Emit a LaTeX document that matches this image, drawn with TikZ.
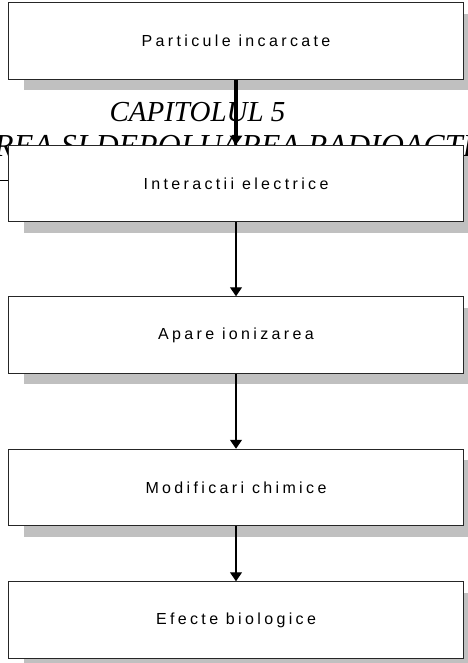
\documentclass[tikz,border=0pt]{standalone}
\usepackage{fontspec}
\setmainfont{Liberation Serif}
\newfontfamily\boxfont[LetterSpace=21]{Liberation Sans}
\usetikzlibrary{arrows.meta,shadows}
\definecolor{shadowgray}{RGB}{192,192,192}
\tikzset{
  stagebox/.style={draw=black!85, line width=1pt, fill=white, minimum width=455pt, minimum height=76.5pt,
    inner sep=0pt, font=\boxfont\fontsize{16}{19}\selectfont,
    drop shadow={shadow xshift=15pt, shadow yshift=-11pt, fill=shadowgray, opacity=1}},
  flow/.style={line width=1.2pt, -{Triangle[width=12pt,length=9pt]}},
  flowthick/.style={line width=3.2pt, -{Triangle[width=12pt,length=9pt]}},
  heading/.style={inner sep=0pt, font=\itshape}
}
\begin{document}
\begin{tikzpicture}[x=1pt,y=-1pt]
\useasboundingbox (0,0) rectangle (467,663);
% heading behind the boxes
\node[heading, anchor=base, font=\itshape\fontsize{29}{32}\selectfont] (cap) at (197.5,122) {CAPITOLUL 5};
\node[heading, anchor=base west, font=\itshape\fontsize{32}{36}\selectfont] (title) at (-6,157) {REA SI DEPOLUAREA RADIOACTI};
\coordinate (rl) at (0,180);
\coordinate (rr) at (467,180);
\draw[line width=0.9pt] (rl) -- (rr);
% boxes
\node[stagebox] (b1) at (236,41) {Particule incarcate};
\node[stagebox] (b2) at (236,183.5) {Interactii electrice};
\node[stagebox] (b3) at (236,335) {Apare ionizarea};
\node[stagebox] (b4) at (236,487.5) {Modificari chimice};
\node[stagebox] (b5) at (236,620) {Efecte biologice};
% arrows
\draw[flowthick] (b1.south) -- (b2.north);
\draw[flow] (b2.south) -- (b3.north);
\draw[flow] (b3.south) -- (b4.north);
\draw[flow] (b4.south) -- (b5.north);
\end{tikzpicture}
\end{document}
